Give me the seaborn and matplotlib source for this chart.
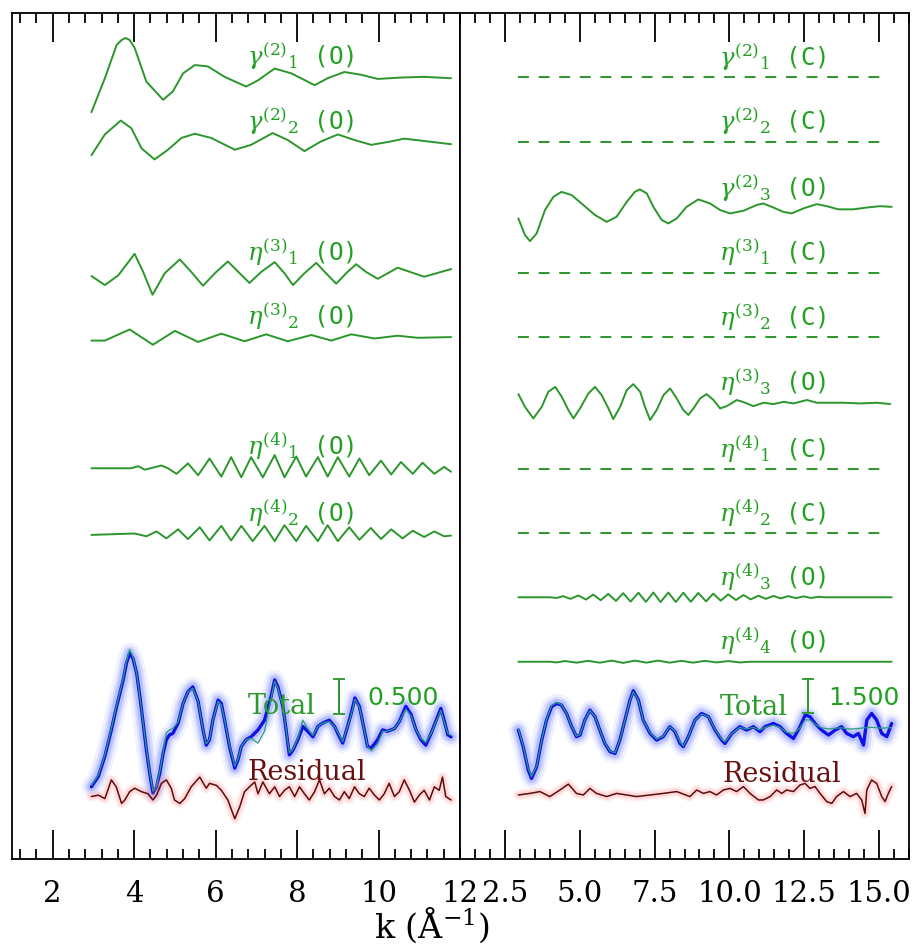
import numpy as np
import matplotlib
matplotlib.use("Agg")
import matplotlib.pyplot as plt
from matplotlib.ticker import MultipleLocator, FixedLocator, FormatStrFormatter
import seaborn as sns

# ---------------------------------------------------------------------------
# EXAFS signal decomposition: two-body (gamma) and three/four-body (eta)
# contributions, total fit vs. experiment and residual, for two data sets.
# Amplitudes are in chi(k) units; each panel has its own vertical scale.
# ---------------------------------------------------------------------------

# ---- left data set --------------------------------------------------------
k_g21 = [2.95, 3.28, 3.57, 3.69, 3.79, 3.89, 4.01, 4.30, 4.71, 4.95, 5.20, 5.49, 5.81, 6.22,
         6.75, 7.04, 7.45, 7.86, 8.43, 8.75, 9.16, 9.57, 9.98, 10.55, 11.12, 11.78]
v_g21 = [-0.50, -0.01, 0.47, 0.54, 0.57, 0.54, 0.43, -0.06, -0.32, -0.20, 0.06, 0.18, 0.16, 0.01,
         -0.13, -0.04, 0.13, 0.06, -0.11, -0.01, 0.08, 0.04, -0.02, 0.00, 0.01, -0.01]

k_g22 = [2.95, 3.28, 3.67, 3.93, 4.18, 4.50, 4.83, 5.16, 5.49, 5.89, 6.47, 6.87,
         7.40, 7.77, 8.18, 8.59, 9.00, 9.41, 9.82, 10.31, 10.63, 11.20, 11.78]
v_g22 = [-0.18, 0.12, 0.32, 0.21, -0.08, -0.24, -0.10, 0.07, 0.13, 0.07, -0.10, -0.03,
         0.14, 0.04, -0.12, 0.02, 0.12, 0.04, -0.03, 0.02, 0.06, 0.02, -0.02]

k_e31 = [2.95, 3.28, 3.61, 4.01, 4.22, 4.45, 4.75, 5.12, 5.40, 5.69, 5.98, 6.30,
         6.59, 6.83, 7.12, 7.45, 7.69, 7.90, 8.18, 8.47, 8.71, 8.96, 9.24, 9.45,
         9.69, 9.98, 10.47, 11.12, 11.78]
v_e31 = [-0.04, -0.17, -0.03, 0.28, 0.02, -0.31, 0.00, 0.20, 0.02, -0.18, 0.00, 0.17,
         0.00, -0.14, 0.02, 0.16, 0.00, -0.17, 0.00, 0.15, 0.00, -0.15, 0.02, 0.13,
         0.02, -0.08, 0.08, -0.05, 0.06]

k_e32 = [2.95, 3.28, 3.89, 4.46, 5.00, 5.57, 6.14, 6.71, 7.24, 7.77, 8.35, 8.84,
         9.33, 9.90, 10.47, 10.96, 11.78]
v_e32 = [-0.04, -0.04, 0.12, -0.10, 0.10, -0.06, 0.06, -0.05, 0.05, -0.05, 0.04, -0.04,
         0.05, -0.01, 0.03, 0.00, 0.01]

k_e41 = [2.95, 3.93, 4.10, 4.26, 4.67, 4.83, 5.04, 5.32, 5.57, 5.85, 6.14, 6.38,
         6.63, 6.87, 7.16, 7.45, 7.69, 7.98, 8.22, 8.51, 8.75, 9.00, 9.28, 9.53,
         9.77, 10.06, 10.31, 10.55, 10.84, 11.08, 11.37, 11.61, 11.78]
v_e41 = [-0.01, -0.01, 0.02, -0.03, 0.03, -0.01, -0.09, 0.06, -0.11, 0.13, -0.13, 0.15,
         -0.14, 0.15, -0.14, 0.18, -0.14, 0.16, -0.13, 0.15, -0.13, 0.15, -0.13, 0.13,
         -0.11, 0.10, -0.10, 0.08, -0.09, 0.07, -0.09, 0.01, -0.06]

k_e42 = [2.95, 4.01, 4.30, 4.55, 4.79, 5.08, 5.32, 5.61, 5.85, 6.14, 6.38, 6.63,
         6.91, 7.20, 7.45, 7.69, 7.98, 8.22, 8.51, 8.75, 9.00, 9.28, 9.53, 9.81,
         10.06, 10.31, 10.59, 10.84, 11.12, 11.37, 11.61, 11.78]
v_e42 = [-0.01, 0.01, -0.03, 0.04, -0.06, 0.07, -0.07, 0.10, -0.09, 0.12, -0.09, 0.12,
         -0.10, 0.12, -0.10, 0.13, -0.10, 0.12, -0.10, 0.13, -0.10, 0.10, -0.08, 0.09,
         -0.07, 0.07, -0.06, 0.05, -0.04, 0.04, -0.03, -0.02]

k_totL = [2.95, 3.12, 3.28, 3.44, 3.57, 3.65, 3.73, 3.81, 3.89, 3.97, 4.06, 4.14,
          4.22, 4.30, 4.38, 4.46, 4.55, 4.63, 4.71, 4.79, 4.87, 4.95, 5.08, 5.20,
          5.32, 5.44, 5.57, 5.69, 5.77, 5.85, 5.93, 6.06, 6.14, 6.22, 6.34, 6.47,
          6.55, 6.63, 6.75, 6.87, 7.04, 7.20, 7.36, 7.45, 7.53, 7.65, 7.73, 7.81,
          7.90, 8.02, 8.14, 8.26, 8.39, 8.51, 8.63, 8.79, 8.92, 9.04, 9.12, 9.24,
          9.33, 9.42, 9.53, 9.65, 9.73, 9.82, 9.98, 10.10, 10.22, 10.39, 10.51, 10.67,
          10.80, 10.92, 11.04, 11.16, 11.29, 11.45, 11.53, 11.61, 11.70, 11.78]
exp_totL = [-0.82, -0.67, -0.38, 0.00, 0.34, 0.53, 0.72, 0.96, 1.11, 1.03, 0.82, 0.48,
            0.10, -0.29, -0.62, -0.91, -0.82, -0.62, -0.34, -0.14, -0.07, -0.05, 0.10, 0.38,
            0.55, 0.62, 0.41, 0.00, -0.22, -0.14, 0.14, 0.43, 0.38, 0.14, -0.24, -0.55,
            -0.43, -0.24, -0.14, -0.10, 0.00, 0.14, 0.48, 0.72, 0.62, 0.34, 0.00, -0.36,
            -0.29, -0.14, 0.05, -0.02, -0.10, 0.05, 0.10, 0.14, 0.05, -0.10, -0.19, 0.05,
            0.24, 0.46, 0.34, 0.00, -0.24, -0.26, -0.14, 0.00, -0.02, 0.02, 0.12, 0.34,
            0.22, 0.00, -0.14, -0.22, -0.05, 0.19, 0.31, 0.14, -0.07, -0.10]
fit_totL = [-0.80, -0.65, -0.36, 0.02, 0.36, 0.55, 0.74, 0.99, 1.16, 1.05, 0.82, 0.48,
            0.10, -0.28, -0.60, -0.88, -0.80, -0.60, -0.32, -0.04, 0.00, 0.02, 0.12, 0.38,
            0.55, 0.60, 0.41, 0.00, -0.20, -0.14, 0.14, 0.41, 0.36, 0.14, -0.22, -0.52,
            -0.42, -0.24, -0.14, -0.12, -0.19, -0.02, 0.45, 0.70, 0.60, 0.34, 0.00, -0.33,
            -0.28, -0.12, 0.14, 0.02, -0.08, 0.05, 0.10, 0.12, 0.05, -0.08, -0.17, 0.05,
            0.22, 0.44, 0.33, 0.00, -0.24, -0.30, -0.20, -0.02, -0.02, 0.02, 0.12, 0.30,
            0.20, 0.00, -0.12, -0.18, -0.05, 0.17, 0.28, 0.12, -0.05, -0.08]

k_resL = [2.95, 3.12, 3.28, 3.44, 3.56, 3.69, 3.77, 3.89, 4.01, 4.18,
          4.34, 4.46, 4.55, 4.67, 4.79, 4.91, 4.99, 5.12, 5.24, 5.40,
          5.61, 5.77, 5.85, 6.02, 6.14, 6.30, 6.47, 6.59, 6.71, 6.83,
          6.96, 7.04, 7.16, 7.32, 7.45, 7.57, 7.69, 7.81, 7.94, 8.06,
          8.18, 8.30, 8.43, 8.55, 8.67, 8.79, 8.92, 9.04, 9.16, 9.28,
          9.41, 9.53, 9.65, 9.77, 9.90, 10.02, 10.14, 10.26, 10.39, 10.51,
          10.63, 10.76, 10.88, 11.00, 11.12, 11.25, 11.37, 11.49, 11.57, 11.65,
          11.78]
v_resL = [-0.02, 0.00, -0.05, 0.22, 0.12, -0.12, -0.07, 0.05, 0.10, 0.05,
          0.02, -0.07, 0.00, 0.17, 0.22, 0.10, -0.07, -0.12, -0.05, 0.12,
          0.26, 0.10, 0.17, 0.14, 0.07, -0.07, -0.34, -0.17, 0.05, 0.12,
          0.19, 0.02, 0.19, 0.02, 0.12, -0.02, 0.07, 0.12, -0.02, 0.12,
          0.02, -0.07, 0.05, 0.22, 0.02, 0.10, -0.02, -0.07, 0.05, -0.05,
          0.12, 0.02, -0.02, 0.10, 0.00, -0.07, 0.02, 0.17, -0.02, 0.05,
          0.22, 0.07, -0.10, 0.00, 0.07, -0.07, 0.12, 0.07, 0.26, -0.02,
          -0.07]

# ---- right data set -------------------------------------------------------
k_flat = [2.95, 15.30]
v_flat = [0.0, 0.0]

k_g23 = [2.95, 3.17, 3.34, 3.56, 3.84, 4.12, 4.39, 4.73, 5.12, 5.51,
         5.90, 6.23, 6.57, 6.84, 7.01, 7.24, 7.46, 7.74, 7.96, 8.24,
         8.57, 8.96, 9.35, 9.69, 10.02, 10.47, 10.91, 11.13, 11.47, 11.80,
         12.08, 12.47, 12.92, 13.25, 13.64, 14.14, 14.59, 15.03, 15.42]
v_g23 = [-0.44, -1.17, -1.44, -1.10, -0.07, 0.51, 0.73, 0.59, 0.15, -0.29,
         -0.59, -0.37, 0.29, 0.73, 0.84, 0.66, 0.07, -0.51, -0.66, -0.44,
         0.07, 0.40, 0.22, -0.07, -0.22, -0.10, 0.15, 0.22, 0.04, -0.15,
         -0.22, 0.00, 0.19, 0.10, -0.04, -0.04, 0.04, 0.10, 0.07]

k_e33 = [2.95, 3.17, 3.45, 3.73, 3.95, 4.18, 4.40, 4.62, 4.79, 5.01,
         5.29, 5.51, 5.73, 5.96, 6.12, 6.35, 6.57, 6.79, 7.02, 7.18,
         7.35, 7.57, 7.80, 8.02, 8.24, 8.46, 8.63, 8.80, 9.02, 9.24,
         9.47, 9.69, 9.91, 10.25, 10.53, 10.80, 11.14, 11.47, 11.81, 12.14,
         12.59, 12.92, 13.37, 13.81, 14.37, 14.93, 15.37]
v_e33 = [0.38, -0.18, -0.69, -0.18, 0.48, 0.70, 0.26, -0.32, -0.69, -0.25,
         0.41, 0.70, 0.34, -0.25, -0.72, -0.18, 0.56, 0.82, 0.48, -0.18,
         -0.76, -0.32, 0.34, 0.63, 0.19, -0.32, -0.54, -0.25, 0.19, 0.38,
         0.12, -0.25, -0.15, 0.12, 0.00, -0.15, 0.00, -0.06, 0.04, -0.03,
         0.12, 0.00, 0.00, 0.00, -0.03, 0.00, -0.06]

k_e43 = [2.95, 4.00, 4.23, 4.45, 4.69, 4.95, 5.21, 5.45, 5.70, 5.95,
         6.21, 6.45, 6.70, 6.96, 7.21, 7.46, 7.70, 7.96, 8.21, 8.46,
         8.71, 8.96, 9.22, 9.46, 9.71, 9.96, 10.22, 10.47, 10.71, 10.97,
         11.22, 11.47, 11.71, 11.97, 12.23, 12.47, 12.72, 12.97, 13.20, 15.42]
v_e43 = [0.00, 0.00, -0.03, 0.05, -0.07, 0.08, -0.10, 0.12, -0.13, 0.15,
         -0.16, 0.18, -0.19, 0.20, -0.20, 0.21, -0.21, 0.21, -0.21, 0.20,
         -0.20, 0.19, -0.18, 0.16, -0.15, 0.13, -0.12, 0.10, -0.09, 0.07,
         -0.07, 0.06, -0.05, 0.05, -0.04, 0.04, -0.03, 0.02, 0.00, 0.00]

k_e44 = [2.95, 4.00, 4.23, 4.50, 4.90, 5.28, 5.67, 6.07, 6.45, 6.84,
         7.23, 7.62, 8.01, 8.40, 8.79, 9.18, 9.57, 9.96, 10.35, 10.69, 15.42]
v_e44 = [0.00, 0.00, -0.03, 0.03, -0.04, 0.04, -0.04, 0.05, -0.05, 0.05,
         -0.04, 0.05, -0.04, 0.04, -0.04, 0.04, -0.03, 0.03, -0.03, 0.00, 0.00]

k_totR = [2.95, 3.11, 3.28, 3.39, 3.56, 3.73, 3.89, 4.06, 4.23, 4.39,
          4.56, 4.73, 4.89, 5.01, 5.17, 5.34, 5.51, 5.67, 5.84, 6.01,
          6.18, 6.34, 6.51, 6.68, 6.79, 6.96, 7.12, 7.35, 7.57, 7.79,
          8.01, 8.18, 8.35, 8.46, 8.63, 8.85, 9.07, 9.30, 9.52, 9.74,
          9.85, 10.08, 10.35, 10.58, 10.80, 11.02, 11.19, 11.47, 11.69, 11.91,
          12.14, 12.36, 12.53, 12.69, 12.86, 13.08, 13.31, 13.53, 13.75, 13.92,
          14.14, 14.31, 14.48, 14.59, 14.75, 14.92, 15.09, 15.26, 15.42]
exp_totR = [0.00, -0.73, -1.76, -2.13, -1.62, -0.44, 0.44, 1.03, 1.17, 1.10,
            0.73, 0.15, -0.29, -0.22, 0.44, 0.88, 0.59, 0.00, -0.59, -0.95,
            -1.03, -0.44, 0.44, 1.32, 1.73, 1.32, 0.44, -0.15, -0.44, -0.29,
            0.15, -0.07, -0.59, -0.73, -0.29, 0.44, 0.73, 0.59, 0.00, -0.44,
            -0.59, -0.15, 0.15, 0.00, 0.15, -0.07, 0.15, 0.29, 0.15, -0.15,
            -0.37, 0.15, 0.66, 0.59, 0.29, 0.00, -0.22, 0.00, 0.15, -0.15,
            -0.29, -0.15, -0.66, 0.44, 0.73, 0.44, -0.15, -0.29, 0.29]
fit_totR = [0.05, -0.70, -1.70, -2.05, -1.60, -0.44, 0.48, 1.08, 1.22, 1.12,
            0.73, 0.15, -0.27, -0.20, 0.44, 0.86, 0.59, 0.00, -0.57, -0.93,
            -1.00, -0.44, 0.44, 1.30, 1.68, 1.30, 0.44, -0.12, -0.40, -0.27,
            0.15, -0.05, -0.52, -0.70, -0.29, 0.44, 0.70, 0.59, 0.02, -0.40,
            -0.52, -0.15, 0.12, 0.05, 0.12, 0.00, 0.12, 0.22, 0.12, -0.10,
            -0.15, 0.10, 0.45, 0.45, 0.25, 0.10, 0.05, 0.08, 0.10, 0.05,
            0.05, 0.07, 0.10, 0.10, 0.12, 0.10, 0.08, 0.10, 0.10]

k_resR = [2.95, 3.34, 3.67, 4.00, 4.34, 4.62, 4.89, 5.12, 5.34, 5.56,
          5.90, 6.23, 6.57, 6.90, 7.35, 7.79, 8.24, 8.68, 8.91, 9.13,
          9.35, 9.57, 9.80, 10.02, 10.24, 10.47, 10.69, 10.97, 11.13, 11.36,
          11.58, 11.75, 11.91, 12.14, 12.36, 12.53, 12.69, 12.86, 13.03, 13.25,
          13.42, 13.58, 13.81, 14.03, 14.25, 14.42, 14.53, 14.59, 14.75, 14.92,
          15.09, 15.20, 15.31, 15.42]
v_resR = [0.00, 0.07, 0.15, -0.07, 0.22, 0.48, 0.07, 0.00, 0.29, 0.07,
          -0.07, 0.07, 0.00, -0.07, 0.00, 0.07, 0.15, -0.07, 0.22, 0.07,
          0.15, 0.00, 0.22, 0.29, 0.15, 0.37, 0.07, -0.22, -0.22, -0.07,
          0.22, 0.07, 0.22, 0.15, 0.44, 0.51, 0.29, 0.37, 0.07, -0.29,
          -0.37, -0.07, 0.15, -0.07, 0.07, -0.22, -0.81, 0.22, 0.66, 0.51,
          -0.07, -0.29, 0.07, 0.37]

# scale bars (chi units)
scale_left = 0.5
scale_right = 1.5

# curve labels
labels_left = [r"$\gamma^{(2)}{}_{1}$ (O)", r"$\gamma^{(2)}{}_{2}$ (O)",
               r"$\eta^{(3)}{}_{1}$ (O)", r"$\eta^{(3)}{}_{2}$ (O)",
               r"$\eta^{(4)}{}_{1}$ (O)", r"$\eta^{(4)}{}_{2}$ (O)"]
labels_right = [r"$\gamma^{(2)}{}_{1}$ (C)", r"$\gamma^{(2)}{}_{2}$ (C)",
                r"$\gamma^{(2)}{}_{3}$ (O)", r"$\eta^{(3)}{}_{1}$ (C)",
                r"$\eta^{(3)}{}_{2}$ (C)", r"$\eta^{(3)}{}_{3}$ (O)",
                r"$\eta^{(4)}{}_{1}$ (C)", r"$\eta^{(4)}{}_{2}$ (C)",
                r"$\eta^{(4)}{}_{3}$ (O)", r"$\eta^{(4)}{}_{4}$ (O)"]

# ---- layout ---------------------------------------------------------------
FIG_W, FIG_H = 916, 949
AX_BOTTOM, AX_TOP = 859, 13
AX_H = AX_BOTTOM - AX_TOP
YSPAN_L = 12.19
YSPAN_R = 37.27
OFF_L = [11.26, 10.32, 8.44, 7.51, 5.64, 4.68]
OFF_L_TOT, OFF_L_RES = 1.86, 0.92
OFF_R = [34.44, 31.60, 28.66, 25.83, 22.98, 20.10, 17.18, 14.35, 11.53, 8.69]
OFF_R_TOT, OFF_R_RES = 5.68, 2.82
LAB_K_L, LAB_K_R = 6.78, 9.66

GREEN = "#2b962b"
LABEL_GREEN = "#21a021"
BLUE = "#1010e8"
HALO_BLUE = "#6f80ff"
FIT = "#2aa07a"
RED = "#5c0a0a"
HALO_RED = "#ff8c8c"

sns.set_theme(style="white")
plt.rcParams["font.family"] = ["DejaVu Serif"]
plt.rcParams["mathtext.fontset"] = "dejavuserif"
plt.rcParams["text.color"] = "black"

fig = plt.figure(figsize=(FIG_W / 100, FIG_H / 100), dpi=100)
fig.patch.set_facecolor("white")
axL = fig.add_axes([12 / FIG_W, 1 - AX_BOTTOM / FIG_H, 448 / FIG_W, AX_H / FIG_H])
axR = fig.add_axes([460 / FIG_W, 1 - AX_BOTTOM / FIG_H, 449 / FIG_W, AX_H / FIG_H])


def curve(ax, k, v, off, color=GREEN, lw=1.4, **kw):
    y = off + np.asarray(v, dtype=float)
    sns.lineplot(x=np.asarray(k, dtype=float), y=y, ax=ax, color=color,
                 linewidth=lw, estimator=None, sort=False, legend=False, **kw)


def glow_curve(ax, k, v, off, core, halo, lw, widths=(6.0, 4.2, 2.8), alphas=(0.10, 0.18, 0.30)):
    for w, a in zip(widths, alphas):
        curve(ax, k, v, off, color=halo, lw=lw * w, alpha=a, solid_capstyle="round",
              solid_joinstyle="round")
    curve(ax, k, v, off, color=core, lw=lw)


def label(ax, text, k, off, dy_px, color=LABEL_GREEN, size=17.5, family="DejaVu Sans Mono"):
    ax.annotate(text, xy=(k, off), xytext=(0, dy_px * 0.72), textcoords="offset points",
                ha="left", va="center", color=color, fontsize=size, family=family)


def scale_bar(ax, k, off, span, length, text_k, gap_px):
    units_per_px = span / AX_H
    bottom = off + gap_px * units_per_px
    ax.errorbar([k], [bottom + length / 2], yerr=[length / 2], color=GREEN,
                capsize=4, capthick=1.3, elinewidth=1.4, fmt="none")
    ax.annotate(f"{length:.3f}", xy=(text_k, off), xytext=(0, 32 * 0.72),
                textcoords="offset points", ha="left", va="center",
                color=LABEL_GREEN, fontsize=18, family="DejaVu Sans")


# left panel
left_series = [(k_g21, v_g21), (k_g22, v_g22), (k_e31, v_e31),
               (k_e32, v_e32), (k_e41, v_e41), (k_e42, v_e42)]
for (k, v), off, lab in zip(left_series, OFF_L, labels_left):
    curve(axL, k, v, off)
    label(axL, lab, LAB_K_L, off, 21)
glow_curve(axL, k_totL, exp_totL, OFF_L_TOT, BLUE, HALO_BLUE, 2.4)
curve(axL, k_totL, fit_totL, OFF_L_TOT, color=FIT, lw=0.9)
glow_curve(axL, k_resL, v_resL, OFF_L_RES, RED, HALO_RED, 1.1,
           widths=(7.0, 4.5), alphas=(0.12, 0.22))
label(axL, "Total", LAB_K_L, OFF_L_TOT, 23, color="#2a9a2a", size=19.5, family="DejaVu Serif")
label(axL, "Residual", LAB_K_L, OFF_L_RES, 23, color="#6a1010", size=19.5, family="DejaVu Serif")
scale_bar(axL, 9.04, OFF_L_TOT, YSPAN_L, scale_left, 9.73, 16)

# right panel
flat = (k_flat, v_flat)
right_series = [flat, flat, (k_g23, v_g23), flat, flat, (k_e33, v_e33),
                flat, flat, (k_e43, v_e43), (k_e44, v_e44)]
for (k, v), off, lab in zip(right_series, OFF_R, labels_right):
    if lab.endswith("(C)"):
        curve(axR, k, v, off, lw=1.4, linestyle=(0, (5.6, 5.0)))
    else:
        curve(axR, k, v, off)
    label(axR, lab, LAB_K_R, off, 20)
glow_curve(axR, k_totR, exp_totR, OFF_R_TOT, BLUE, HALO_BLUE, 2.4)
curve(axR, k_totR, fit_totR, OFF_R_TOT, color=FIT, lw=0.9)
glow_curve(axR, k_resR, v_resR, OFF_R_RES, RED, HALO_RED, 1.1,
           widths=(7.0, 4.5), alphas=(0.12, 0.22))
label(axR, "Total", 9.69, OFF_R_TOT, 23, color="#2a9a2a", size=19.5, family="DejaVu Serif")
label(axR, "Residual", 9.76, OFF_R_RES, 20, color="#6a1010", size=19.5, family="DejaVu Serif")
scale_bar(axR, 12.62, OFF_R_TOT, YSPAN_R, scale_right, 13.30, 17)

# axes cosmetics
axL.set_xlim(1.0, 12.0)
axL.set_ylim(0, YSPAN_L)
axL.xaxis.set_major_locator(FixedLocator([2, 4, 6, 8, 10, 12]))
axL.xaxis.set_minor_locator(MultipleLocator(0.4))
axL.xaxis.set_major_formatter(FormatStrFormatter("%d"))

axR.set_xlim(1.0, 16.0)
axR.set_ylim(0, YSPAN_R)
axR.xaxis.set_major_locator(FixedLocator([2.5, 5.0, 7.5, 10.0, 12.5, 15.0]))
axR.xaxis.set_minor_locator(MultipleLocator(0.5))
axR.xaxis.set_major_formatter(FormatStrFormatter("%.1f"))

for ax in (axL, axR):
    ax.set_facecolor("white")
    ax.set_yticks([])
    ax.set_xlabel("")
    ax.set_ylabel("")
    ax.tick_params(axis="x", which="both", direction="in", top=True, bottom=True,
                   labeltop=False, labelbottom=True, color="black", width=1.3,
                   labelsize=21, labelcolor="black", pad=15)
    ax.tick_params(axis="x", which="major", length=21)
    ax.tick_params(axis="x", which="minor", length=7.5)
    for s in ax.spines.values():
        s.set_visible(True)
        s.set_color("black")
        s.set_linewidth(1.3)

fig.text(432 / FIG_W, 1 - 925 / FIG_H, r"k (Å$^{-1}$)", ha="center", va="center",
         fontsize=24, color="black", family="DejaVu Serif")

fig.savefig("out.png", dpi=100, facecolor="white")
